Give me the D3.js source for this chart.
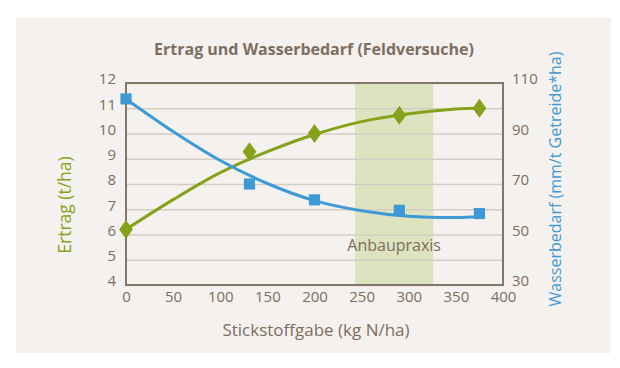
<!DOCTYPE html>
<html>
<head>
<meta charset="utf-8">
<script src="https://d3js.org/d3.v7.min.js"></script>
<style>
body { margin: 0; background: #ffffff; }
text { font-family: "Open Sans", "DejaVu Sans", sans-serif; }
</style>
</head>
<body>
<script>
// values
var nitrogen = [0, 131, 200, 290, 375];            // kg N/ha
var yieldVals = [6.2, 9.28, 10.0, 10.72, 11.0];      // t/ha (left axis)
var waterVals = [103.7, 70.0, 63.7, 59.6, 58.3];     // mm/t Getreide*ha (right axis)

// trend lines
var trendX = [0, 50, 100, 150, 200, 250, 300, 350, 375];
var yieldTrend = [6.2, 7.38, 8.45, 9.28, 9.96, 10.47, 10.78, 10.97, 11.0];
var waterTrend = [103.7, 90.8, 79.3, 70.2, 63.4, 59.4, 57.2, 56.7, 57.0];

var bandRange = [243, 326];
var xTicks = [0, 50, 100, 150, 200, 250, 300, 350, 400];
var leftTicks = [4, 5, 6, 7, 8, 9, 10, 11, 12];
var rightTicks = [30, 50, 70, 90, 110];

var W = 620, H = 368;
var margin = {top: 83, right: 117, bottom: 83, left: 126};
var width = W - margin.left - margin.right,
    height = H - margin.top - margin.bottom;

var brown = "#7d6e60", axisCol = "#857667", gridCol = "#d5cdc5";
var green = "#86a21a", blue = "#3d9ad6";

var svg = d3.select("body").append("svg")
    .attr("width", W)
    .attr("height", H);

svg.append("rect")
    .attr("x", 16).attr("y", 18)
    .attr("width", 595).attr("height", 335)
    .attr("fill", "#f5f1ee");

var g = svg.append("g")
    .attr("transform", "translate(" + margin.left + "," + margin.top + ")");

var x = d3.scaleLinear().domain([0, 400]).range([0, width]);
var yL = d3.scaleLinear().domain([4, 12]).range([height, 0]);
var yR = d3.scaleLinear().domain([30, 110]).range([height, 0]);

// Anbaupraxis band
g.append("rect")
    .attr("x", x(bandRange[0]))
    .attr("y", 0)
    .attr("width", x(bandRange[1]) - x(bandRange[0]))
    .attr("height", height)
    .attr("fill", "#dde3bf");

// gridlines
g.append("g")
    .call(d3.axisLeft(yL).tickValues(leftTicks).tickSize(-width).tickFormat(""))
    .call(function(s) {
      s.select(".domain").remove();
      s.selectAll("line").attr("stroke", gridCol).attr("stroke-width", 1.5);
    });

g.append("text")
    .attr("x", x((bandRange[0] + bandRange[1]) / 2))
    .attr("y", yL(5.35))
    .attr("text-anchor", "middle")
    .attr("fill", brown)
    .style("font-size", "16px")
    .text("Anbaupraxis");

// frame
g.append("rect")
    .attr("x", 0).attr("y", 0)
    .attr("width", width).attr("height", height)
    .attr("fill", "none")
    .attr("stroke", axisCol)
    .attr("stroke-width", 2);

// axes
var xAxis = g.append("g")
    .attr("transform", "translate(0," + height + ")")
    .call(d3.axisBottom(x).tickValues(xTicks).tickSize(0).tickPadding(6));
var leftAxis = g.append("g")
    .call(d3.axisLeft(yL).tickValues(leftTicks).tickSize(0).tickPadding(10));
var rightAxis = g.append("g")
    .attr("transform", "translate(" + width + ",0)")
    .call(d3.axisRight(yR).tickValues(rightTicks).tickSize(0).tickPadding(9));

[xAxis, leftAxis, rightAxis].forEach(function(a) {
  a.select(".domain").remove();
  a.selectAll("text")
    .attr("fill", brown)
    .style("font-size", "15px")
    .style("font-family", "'Open Sans', sans-serif");
});
leftAxis.selectAll("text").attr("dy", "0.05em");
rightAxis.selectAll("text").attr("dy", "0.05em");

// trend lines
var lineL = d3.line()
    .x(function(d, i) { return x(trendX[i]); })
    .y(function(d) { return yL(d); })
    .curve(d3.curveCatmullRom.alpha(0.5));
var lineR = d3.line()
    .x(function(d, i) { return x(trendX[i]); })
    .y(function(d) { return yR(d); })
    .curve(d3.curveCatmullRom.alpha(0.5));

g.append("path")
    .datum(yieldTrend)
    .attr("d", lineL)
    .attr("fill", "none")
    .attr("stroke", green)
    .attr("stroke-width", 3);

g.append("path")
    .datum(waterTrend)
    .attr("d", lineR)
    .attr("fill", "none")
    .attr("stroke", blue)
    .attr("stroke-width", 3);

// markers
var sq = d3.symbol().type(d3.symbolSquare).size(125);
var dia = d3.symbol().type(d3.symbolDiamond).size(105);

g.selectAll(".sq")
    .data(waterVals)
  .enter().append("path")
    .attr("class", "sq")
    .attr("d", sq)
    .attr("transform", function(d, i) { return "translate(" + x(nitrogen[i]) + "," + yR(d) + ")"; })
    .attr("fill", blue);

g.selectAll(".dia")
    .data(yieldVals)
  .enter().append("path")
    .attr("class", "dia")
    .attr("d", dia)
    .attr("transform", function(d, i) { return "translate(" + x(nitrogen[i]) + "," + yL(d) + ") scale(1.25,1)"; })
    .attr("fill", green);

// titles
svg.append("text")
    .attr("x", 314).attr("y", 55)
    .attr("text-anchor", "middle")
    .attr("fill", brown)
    .style("font-size", "16px")
    .style("font-weight", "bold")
    .text("Ertrag und Wasserbedarf (Feldversuche)");

svg.append("text")
    .attr("x", 316).attr("y", 336)
    .attr("text-anchor", "middle")
    .attr("fill", brown)
    .style("font-size", "17px")
    .text("Stickstoffgabe (kg N/ha)");

svg.append("text")
    .attr("transform", "translate(71,205) rotate(-90)")
    .attr("text-anchor", "middle")
    .attr("fill", green)
    .style("font-size", "17.5px")
    .text("Ertrag (t/ha)");

svg.append("text")
    .attr("transform", "translate(561,179) rotate(-90)")
    .attr("text-anchor", "middle")
    .attr("fill", blue)
    .style("font-size", "16px")
    .text("Wasserbedarf (mm/t Getreide*ha)");
</script>
</body>
</html>
